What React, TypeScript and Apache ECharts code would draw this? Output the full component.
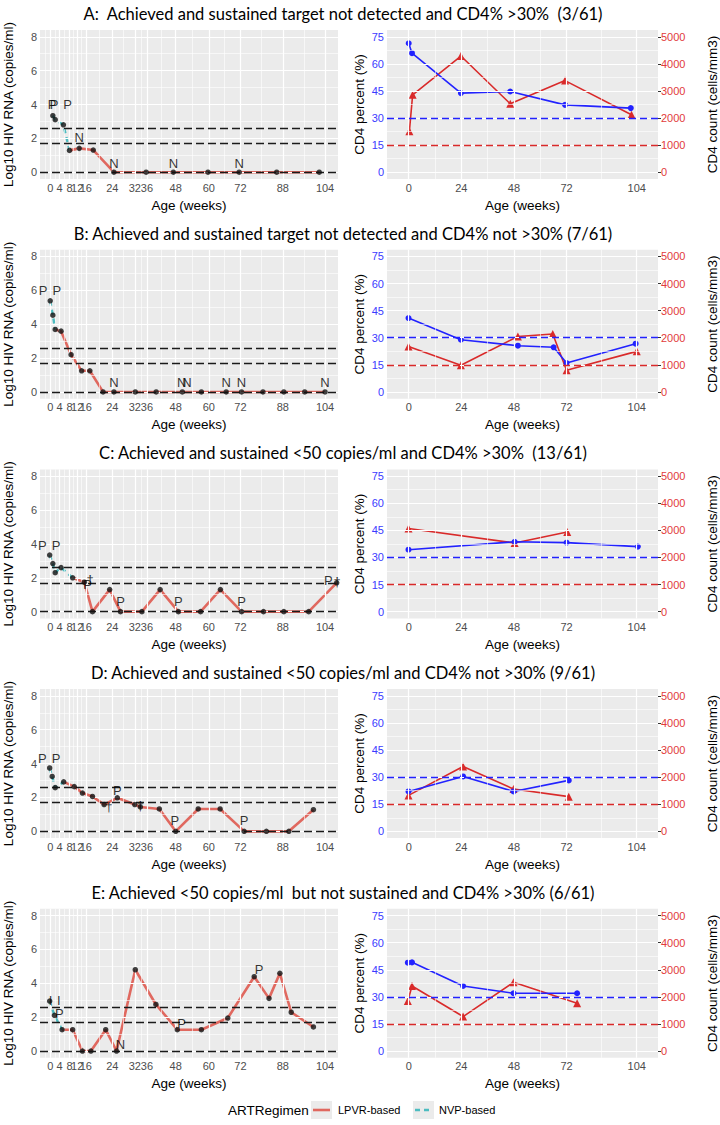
import React, { useEffect, useRef } from 'react';
import * as echarts from 'echarts';

// ---------- shared axis values ----------
const rnaBreakPos = [0, 3.5, 7.3, 10.2, 13.5, 23.5, 32, 36.6, 47.5, 60, 72, 88, 104];
const rnaBreakLabels = ['0', '4', '8', '12', '16', '24', '32', '36', '48', '60', '72', '88', '104'];
const rnaYTicks = [0, 2, 4, 6, 8];
const rnaYMinor = [1, 3, 5, 7];
const rnaRefLines = [0, 1.7, 2.6];
const cd4XTicks = [0, 24, 48, 72, 104];
const cd4PctTicks = [0, 15, 30, 45, 60, 75];
const cd4PctMinor = [7.5, 22.5, 37.5, 52.5, 67.5];
const cd4CountTicks = [0, 1000, 2000, 3000, 4000, 5000];
const cd4PctRef = 30;
const cd4CountRefPct = 15;

const titles = [
  'A:  Achieved and sustained target not detected and CD4% >30%  (3/61)',
  'B: Achieved and sustained target not detected and CD4% not >30% (7/61)',
  'C: Achieved and sustained <50 copies/ml and CD4% >30%  (13/61)',
  'D: Achieved and sustained <50 copies/ml and CD4% not >30% (9/61)',
  'E: Achieved <50 copies/ml  but not sustained and CD4% >30% (6/61)',
];

// ---------- panel A ----------
const aRnaWeeks = [1.0, 1.9, 5.0, 7.3, 11.0, 16.3, 24.1, 36.3, 46.6, 59.7, 71.5, 85.7, 101.8];
const aRnaLog = [3.34, 3.1, 2.8, 1.29, 1.41, 1.31, 0, 0, 0, 0, 0, 0, 0];
const aNvpLast = 3;
const aLblText = ['P', 'P', 'P', 'N', 'N', 'N', 'N'];
const aLblWeeks = [0.7, 1.5, 6.6, 11.0, 24.1, 46.6, 71.5];
const aLblLog = [4.0, 4.0, 4.0, 2.05, 0.5, 0.5, 0.5];
const aPctWeeks = [0, 1.5, 23.8, 46.3, 71.3, 101.3];
const aPct = [71.4, 65.9, 43.8, 44.7, 37.3, 35.5];
const aCountWeeks = [0.3, 1.8, 23.8, 46.3, 71.3, 101.6];
const aCount = [1508, 2858, 4290, 2526, 3382, 2121];

// ---------- panel B ----------
const bRnaWeeks = [0, 1.0, 1.9, 4.1, 7.9, 11.9, 15.0, 20.0, 24.1, 32.2, 40.1, 50.0, 57.2, 66.6, 72.4, 80.5, 88.4, 96.3, 104];
const bRnaLog = [5.38, 4.53, 3.69, 3.59, 2.2, 1.25, 1.25, 0, 0, 0, 0, 0, 0, 0, 0, 0, 0, 0, 0];
const bNvpLast = 2;
const bLblText = ['P', 'P', 'N', 'N', 'N', 'N', 'N', 'N'];
const bLblWeeks = [-2.7, 2.5, 24.1, 49.8, 51.7, 66.6, 72.4, 104];
const bLblLog = [6.0, 6.0, 0.55, 0.55, 0.55, 0.55, 0.55, 0.55];
const bPctWeeks = [-0.1, 23.8, 49.8, 66.1, 72.0, 103.5];
const bPct = [40.9, 28.9, 25.6, 24.7, 16.0, 26.7];
const bCountWeeks = [-0.1, 23.8, 49.8, 65.7, 72.0, 104];
const bCount = [1680, 982, 2048, 2136, 798, 1497];

// ---------- panel C ----------
const cRnaWeeks = [-0.2, 1.0, 1.9, 4.1, 8.5, 12.9, 16.0, 22.5, 26.6, 34.7, 41.6, 48.5, 56.9, 64.4, 72.4, 80.7, 88.4, 97.8, 108.4];
const cRnaLog = [3.34, 2.84, 2.3, 2.6, 2.0, 1.74, 0, 1.3, 0, 0, 1.3, 0, 0, 1.3, 0, 0, 0, 0, 1.7];
const cNvpLast = 4;
const cLblText = ['P', 'P', 'P', '†', 'P', 'P', 'P', 'P', '†'];
const cLblWeeks = [-3.0, 2.2, 14.1, 15.1, 26.6, 48.5, 72.4, 105.2, 108.6];
const cLblLog = [3.9, 3.9, 1.6, 1.9, 0.6, 0.6, 0.6, 1.85, 1.8];
const cPctWeeks = [-0.1, 48.3, 72.0, 104.5];
const cPct = [34.3, 38.7, 38.2, 36.0];
const cCountWeeks = [-0.1, 48.3, 72.3];
const cCount = [3071, 2533, 2938];

// ---------- panel D ----------
const dRnaWeeks = [-0.2, 0.75, 1.9, 5.1, 9.1, 12.2, 16.0, 20.4, 25.4, 32.0, 34.1, 41.3, 47.5, 56.0, 64.3, 73.4, 81.8, 90.3, 99.6];
const dRnaLog = [3.74, 3.24, 2.58, 2.92, 2.64, 2.26, 2.06, 1.58, 1.98, 1.58, 1.44, 1.32, 0, 1.32, 1.32, 0, 0, 0, 1.28];
const dNvpLast = 3;
const dLblText = ['P', 'P', 'P', 'P', 'P', '†', '†'];
const dLblWeeks = [-3.0, 2.2, 25.4, 47.2, 73.4, 22.2, 34.1];
const dLblLog = [4.28, 4.28, 2.44, 0.62, 0.62, 1.45, 1.55];
const dPctWeeks = [-0.1, 24.8, 47.8, 73.0];
const dPct = [22.1, 30.4, 22.1, 28.2];
const dCountWeeks = [-0.1, 24.8, 47.8, 73.0];
const dCount = [1327, 2394, 1563, 1280];

// ---------- panel E ----------
const eRnaWeeks = [-0.2, 1.6, 4.5, 8.5, 12.2, 15.4, 21.0, 25.1, 32.2, 40.0, 48.1, 57.2, 67.2, 77.2, 82.8, 86.9, 91.2, 99.6];
const eRnaLog = [2.95, 2.11, 1.26, 1.26, 0, 0, 1.26, 0, 4.8, 2.75, 1.26, 1.26, 1.95, 4.39, 3.11, 4.59, 2.29, 1.42];
const eNvpLast = 2;
const eLblText = ['I', 'I', 'P', 'N', 'P', 'P'];
const eLblWeeks = [0.15, 3.3, 3.5, 26.6, 49.7, 79.0];
const eLblLog = [3.0, 3.0, 2.19, 0.4, 1.65, 4.79];
const ePctWeeks = [-0.4, 1.5, 24.8, 47.8, 76.8];
const ePct = [48.9, 49.1, 36.0, 32.0, 32.0];
const eCountWeeks = [-0.4, 1.5, 24.8, 47.8, 76.8];
const eCount = [1849, 2400, 1273, 2537, 1765];

const panels = [
  { rw: aRnaWeeks, rv: aRnaLog, nvp: aNvpLast, lt: aLblText, lw: aLblWeeks, lv: aLblLog, pw: aPctWeeks, pv: aPct, cw: aCountWeeks, cv: aCount },
  { rw: bRnaWeeks, rv: bRnaLog, nvp: bNvpLast, lt: bLblText, lw: bLblWeeks, lv: bLblLog, pw: bPctWeeks, pv: bPct, cw: bCountWeeks, cv: bCount },
  { rw: cRnaWeeks, rv: cRnaLog, nvp: cNvpLast, lt: cLblText, lw: cLblWeeks, lv: cLblLog, pw: cPctWeeks, pv: cPct, cw: cCountWeeks, cv: cCount },
  { rw: dRnaWeeks, rv: dRnaLog, nvp: dNvpLast, lt: dLblText, lw: dLblWeeks, lv: dLblLog, pw: dPctWeeks, pv: dPct, cw: dCountWeeks, cv: dCount },
  { rw: eRnaWeeks, rv: eRnaLog, nvp: eNvpLast, lt: eLblText, lw: eLblWeeks, lv: eLblLog, pw: ePctWeeks, pv: ePct, cw: eCountWeeks, cv: eCount },
];

// ---------- styling ----------
const FONT = '"Liberation Sans", Arial, sans-serif';
const TITLE_FONT = 'Lato, "Open Sans", sans-serif';
const LPVR = '#e0685f';
const NVP = '#4dbcc0';
const BLUE = '#2222ff';
const RED = '#d92a2a';
const BLUE_TXT = '#3b3bff';
const RED_TXT = '#e23b3b';
const AXIS_TXT = '#4d4d4d';
const ROW_STEP = 219.7;
const PLOT_TOP = 30;
const PLOT_H = 149;

function midpoints(v: number[]) {
  const out: number[] = [];
  for (let i = 0; i < v.length - 1; i++) out.push((v[i] + v[i + 1]) / 2);
  return out;
}

function gridLines(xMajor: number[], xMinor: number[], yMajor: number[], yMinor: number[]) {
  const mk = (axis: string, v: number, w: number) => ({
    [axis]: v,
    lineStyle: { color: '#ffffff', width: w, type: 'solid', opacity: 1 },
  });
  return [
    ...xMinor.map((v) => mk('xAxis', v, 0.6)),
    ...yMinor.map((v) => mk('yAxis', v, 0.6)),
    ...xMajor.map((v) => mk('xAxis', v, 1.2)),
    ...yMajor.map((v) => mk('yAxis', v, 1.2)),
  ];
}

function buildOption() {
  const grid: any[] = [];
  const xAxis: any[] = [];
  const yAxis: any[] = [];
  const series: any[] = [];
  const graphic: any[] = [];

  const rnaXMinor = [rnaBreakPos[0] - (rnaBreakPos[1] - rnaBreakPos[0]) / 2, ...midpoints(rnaBreakPos)];
  const cd4XMinor = midpoints(cd4XTicks);

  const tickCommon = { show: true, length: 3, lineStyle: { color: '#333', width: 1 } };
  const labelCommon = { fontSize: 11, color: AXIS_TXT, fontFamily: FONT, margin: 3, formatter: (v: number) => String(v) };
  const nameStyle = { fontSize: 13.5, color: '#000', fontFamily: FONT };

  panels.forEach((p, i) => {
    const top = PLOT_TOP + ROW_STEP * i;
    grid.push({ left: 37, top, width: 301, height: PLOT_H, show: true, backgroundColor: '#ebebeb', borderWidth: 0 });
    grid.push({ left: 387, top, width: 278, height: PLOT_H, show: true, backgroundColor: '#ebebeb', borderWidth: 0 });
    const gL = 2 * i;
    const gR = 2 * i + 1;
    xAxis.push({
      type: 'value', gridIndex: gL, min: -3.86, max: 108.9,
      name: 'Age (weeks)', nameLocation: 'middle', nameGap: 19, nameTextStyle: nameStyle,
      axisLine: { show: false },
      axisTick: { ...tickCommon, customValues: rnaBreakPos },
      axisLabel: {
        ...labelCommon, customValues: rnaBreakPos, hideOverlap: false,
        formatter: (v: number) => {
          const k = rnaBreakPos.findIndex((b) => Math.abs(b - v) < 1e-6);
          return k >= 0 ? rnaBreakLabels[k] : '';
        },
      },
      splitLine: { show: false },
    });
    xAxis.push({
      type: 'value', gridIndex: gR, min: -9.9, max: 113.7,
      name: 'Age (weeks)', nameLocation: 'middle', nameGap: 19, nameTextStyle: nameStyle,
      axisLine: { show: false },
      axisTick: { ...tickCommon, customValues: cd4XTicks },
      axisLabel: { ...labelCommon, customValues: cd4XTicks },
      splitLine: { show: false },
    });
    const yL = 3 * i;
    const yR1 = 3 * i + 1;
    const yR2 = 3 * i + 2;
    yAxis.push({
      type: 'value', gridIndex: gL, min: -0.4, max: 8.4,
      name: 'Log10 HIV RNA (copies/ml)', nameLocation: 'middle', nameGap: 25, nameRotate: 90, nameTextStyle: nameStyle,
      axisLine: { show: false },
      axisTick: { ...tickCommon, customValues: rnaYTicks },
      axisLabel: { ...labelCommon, customValues: rnaYTicks },
      splitLine: { show: false },
    });
    yAxis.push({
      type: 'value', gridIndex: gR, min: -3.75, max: 78.75, position: 'left',
      name: 'CD4 percent (%)', nameLocation: 'middle', nameGap: 21, nameRotate: 90, nameTextStyle: nameStyle,
      axisLine: { show: false },
      axisTick: { ...tickCommon, customValues: cd4PctTicks },
      axisLabel: { ...labelCommon, color: BLUE_TXT, customValues: cd4PctTicks },
      splitLine: { show: false },
    });
    yAxis.push({
      type: 'value', gridIndex: gR, min: -250, max: 5250, position: 'right',
      name: 'CD4 count (cells/mm3)', nameLocation: 'middle', nameGap: 47, nameRotate: 90, nameTextStyle: nameStyle,
      axisLine: { show: false },
      axisTick: { ...tickCommon, customValues: cd4CountTicks },
      axisLabel: { ...labelCommon, color: RED_TXT, customValues: cd4CountTicks },
      splitLine: { show: false },
    });

    // ----- left panel series -----
    series.push({
      type: 'line', xAxisIndex: gL, yAxisIndex: yL, data: [], silent: true, z: 1, symbol: 'none',
      markLine: { silent: true, symbol: ['none', 'none'], label: { show: false }, animation: false,
        data: gridLines(rnaBreakPos, rnaXMinor, rnaYTicks, rnaYMinor) },
    });
    series.push({
      type: 'line', xAxisIndex: gL, yAxisIndex: yL, data: [], silent: true, z: 2, symbol: 'none',
      markLine: { silent: true, symbol: ['none', 'none'], label: { show: false }, animation: false,
        lineStyle: { color: '#1a1a1a', width: 1.3, type: [8, 4] },
        data: rnaRefLines.map((v) => ({ yAxis: v })) },
    });
    const pts = p.rw.map((w, k) => [w, p.rv[k]]);
    series.push({
      name: 'LPVR-based', type: 'line', xAxisIndex: gL, yAxisIndex: yL, z: 3, symbol: 'none',
      data: pts.slice(p.nvp), lineStyle: { color: LPVR, width: 2.6 }, silent: true,
    });
    series.push({
      name: 'NVP-based', type: 'line', xAxisIndex: gL, yAxisIndex: yL, z: 4, symbol: 'none',
      data: pts.slice(0, p.nvp + 1), lineStyle: { color: NVP, width: 2.4, type: [5, 4] }, silent: true,
    });
    series.push({
      type: 'scatter', xAxisIndex: gL, yAxisIndex: yL, z: 5, symbol: 'circle', symbolSize: 5.5,
      data: pts, itemStyle: { color: '#111' }, silent: true,
    });
    series.push({
      type: 'scatter', xAxisIndex: gL, yAxisIndex: yL, z: 6, symbolSize: 0, silent: true,
      data: p.lt.map((t, k) => ({ name: t, value: [p.lw[k], p.lv[k]] })),
      label: { show: true, position: 'inside', formatter: '{b}', color: '#000', fontSize: 13, fontFamily: FONT },
    });

    // ----- right panel series -----
    series.push({
      type: 'line', xAxisIndex: gR, yAxisIndex: yR1, data: [], silent: true, z: 1, symbol: 'none',
      markLine: { silent: true, symbol: ['none', 'none'], label: { show: false }, animation: false,
        data: gridLines(cd4XTicks, cd4XMinor, cd4PctTicks, cd4PctMinor) },
    });
    series.push({
      type: 'line', xAxisIndex: gR, yAxisIndex: yR1, data: [], silent: true, z: 2, symbol: 'none',
      markLine: { silent: true, symbol: ['none', 'none'], label: { show: false }, animation: false,
        data: [
          { yAxis: cd4PctRef, lineStyle: { color: BLUE, width: 1.3, type: [7, 4] } },
          { yAxis: cd4CountRefPct, lineStyle: { color: RED, width: 1.3, type: [7, 4] } },
        ] },
    });
    series.push({
      type: 'line', xAxisIndex: gR, yAxisIndex: yR1, z: 4, symbol: 'circle', symbolSize: 6,
      data: p.pw.map((w, k) => [w, p.pv[k]]), silent: true,
      lineStyle: { color: BLUE, width: 1.6 }, itemStyle: { color: BLUE },
    });
    series.push({
      type: 'line', xAxisIndex: gR, yAxisIndex: yR2, z: 3, symbol: 'triangle', symbolSize: 8,
      data: p.cw.map((w, k) => [w, p.cv[k]]), silent: true,
      lineStyle: { color: RED, width: 1.6 }, itemStyle: { color: RED },
    });

    graphic.push({
      type: 'text', x: 343, y: top - 16,
      style: { text: titles[i], font: `16.5px ${TITLE_FONT}`, fill: '#000', align: 'center', verticalAlign: 'middle' },
    });
  });

  // legend
  const ly = 1110;
  graphic.push(
    { type: 'text', x: 228, y: ly, style: { text: 'ARTRegimen', font: `13.5px ${FONT}`, fill: '#000', align: 'left', verticalAlign: 'middle' } },
    { type: 'rect', shape: { x: 311, y: ly - 9, width: 21, height: 18 }, style: { fill: '#ebebeb' } },
    { type: 'line', shape: { x1: 313, y1: ly, x2: 330, y2: ly }, style: { stroke: LPVR, lineWidth: 2.6 } },
    { type: 'text', x: 338, y: ly, style: { text: 'LPVR-based', font: `11px ${FONT}`, fill: '#000', align: 'left', verticalAlign: 'middle' } },
    { type: 'rect', shape: { x: 413, y: ly - 9, width: 21, height: 18 }, style: { fill: '#ebebeb' } },
    { type: 'line', shape: { x1: 415, y1: ly, x2: 432, y2: ly }, style: { stroke: NVP, lineWidth: 2.4, lineDash: [5, 4] } },
    { type: 'text', x: 439, y: ly, style: { text: 'NVP-based', font: `11px ${FONT}`, fill: '#000', align: 'left', verticalAlign: 'middle' } },
  );

  return {
    animation: false,
    backgroundColor: '#ffffff',
    grid, xAxis, yAxis, series, graphic,
  };
}

export default function App() {
  const ref = useRef<HTMLDivElement>(null);
  useEffect(() => {
    const chart = echarts.init(ref.current!, null, { renderer: 'svg' });
    chart.setOption(buildOption() as any);
    return () => chart.dispose();
  }, []);
  return <div ref={ref} style={{ position: 'absolute', left: 0, top: 0, width: 720, height: 1125 }} />;
}
